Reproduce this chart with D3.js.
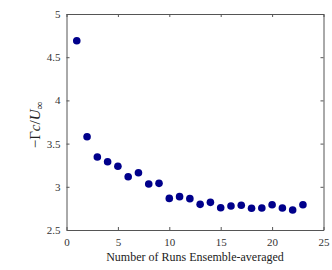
<!DOCTYPE html>
<html lang="en">
<head>
<meta charset="UTF-8">
<title>Ensemble averaging</title>
<style>
    body { margin: 0; padding: 0; background: #fff; }
    svg { display: block; font-family: "Liberation Serif", "Times New Roman", serif; }
    .axis path, .axis line { stroke: #555; }
    .axis text { fill: #333; font-size: 11px; font-family: "Liberation Serif", serif; }
</style>
</head>
<body>
<div id="chart"></div>
<script src="https://d3js.org/d3.v7.min.js"></script>
<script>
    // number of runs averaged and the resulting circulation
    const runs = [1, 2, 3, 4, 5, 6, 7, 8, 9, 10, 11, 12, 13, 14, 15, 16, 17, 18, 19, 20, 21, 22, 23];
    const gamma = [4.69, 3.58, 3.345, 3.29, 3.237, 3.117, 3.163, 3.032, 3.04, 2.866, 2.886, 2.863,
        2.797, 2.82, 2.758, 2.778, 2.786, 2.751, 2.755, 2.793, 2.755, 2.731, 2.793];
    const xTicks = [0, 5, 10, 15, 20, 25];
    const yTicks = [2.5, 3, 3.5, 4, 4.5, 5];

    const W = 332, H = 270;
    const margin = { top: 14, right: 8.5, bottom: 40, left: 66.5 };
    const width = W - margin.left - margin.right;
    const height = H - margin.top - margin.bottom;

    const svg = d3.select("#chart").append("svg")
        .attr("width", W)
        .attr("height", H);
    const g = svg.append("g")
        .attr("transform", "translate(" + margin.left + "," + margin.top + ")");

    const x = d3.scaleLinear().domain([0, 25]).range([0, width]);
    const y = d3.scaleLinear().domain([2.5, 5]).range([height, 0]);

    // frame with inward ticks on all four sides
    g.append("g").attr("class", "axis")
        .attr("transform", "translate(0," + height + ")")
        .call(d3.axisBottom(x).tickValues(xTicks).tickSize(-3).tickPadding(8).tickSizeOuter(0));
    g.append("g").attr("class", "axis")
        .call(d3.axisLeft(y).tickValues(yTicks).tickSize(-3).tickPadding(6).tickSizeOuter(0)
            .tickFormat(d3.format("~g")));
    g.append("g").attr("class", "axis")
        .call(d3.axisTop(x).tickValues(xTicks).tickSize(-3).tickFormat("").tickSizeOuter(0));
    g.append("g").attr("class", "axis")
        .attr("transform", "translate(" + width + ",0)")
        .call(d3.axisRight(y).tickValues(yTicks).tickSize(-3).tickFormat("").tickSizeOuter(0));

    g.selectAll(".dot")
        .data(runs)
        .enter().append("circle")
        .attr("class", "dot")
        .attr("cx", d => x(d))
        .attr("cy", (d, i) => y(gamma[i]))
        .attr("r", 3.8)
        .attr("fill", "#00008b");

    svg.append("text")
        .attr("x", margin.left + width / 2)
        .attr("y", 261)
        .attr("text-anchor", "middle")
        .attr("fill", "#222")
        .style("font-size", "12px")
        .text("Number of Runs Ensemble-averaged");

    const yl = svg.append("text")
        .attr("transform", "translate(40,125) rotate(-90)")
        .attr("text-anchor", "middle")
        .attr("fill", "#222")
        .style("font-size", "15px");
    yl.append("tspan").text("\u2212\u0393");
    yl.append("tspan").style("font-style", "italic").text("c");
    yl.append("tspan").text("/");
    yl.append("tspan").style("font-style", "italic").text("U");
    yl.append("tspan").attr("dy", 3).style("font-size", "11px").text("\u221e");
</script>
</body>
</html>
